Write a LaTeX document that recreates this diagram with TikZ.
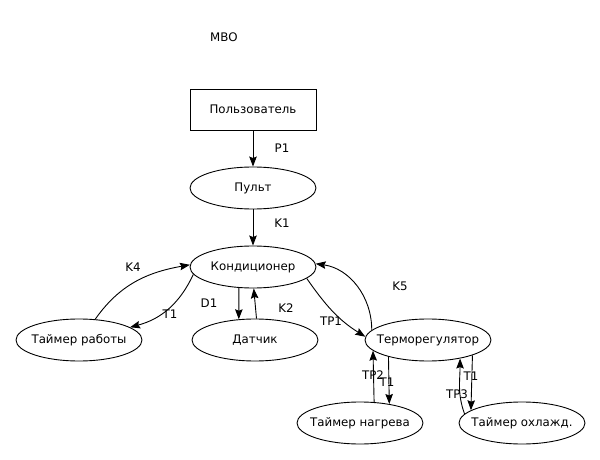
\documentclass[tikz,border=0pt]{standalone}
\usepackage{fontspec}
\setmainfont{DejaVu Sans}
\usetikzlibrary{shapes.geometric,arrows.meta}
\newcommand{\zw}[1]{\makebox[0pt]{#1}}
\begin{document}
\begin{tikzpicture}[x=1pt,y=-1pt,
  every node/.style={font=\fontsize{11.8}{13}\selectfont},
  ell/.style={draw,ellipse,minimum width=126pt,minimum height=42pt,inner sep=0pt,line width=0.9pt},
  boxn/.style={draw,rectangle,minimum width=126pt,minimum height=41pt,inner sep=0pt,line width=0.9pt},
  lbl/.style={inner sep=0pt},
  arr/.style={line width=0.9pt,-{Stealth[length=10pt,width=7.5pt,inset=1.5pt]}}]
\useasboundingbox (0,0) rectangle (600,460);
\node[lbl] (mvo) at (224,37) {МВО};
\node[boxn] (user) at (253,109.5) {Пользователь};
\node[ell] (pult) at (253,188) {\zw{Пульт}};
\node[ell] (kond) at (253,267) {\zw{Кондиционер}};
\node[ell] (tr) at (79,340) {\zw{Таймер работы}};
\node[ell] (dat) at (255,340) {\zw{Датчик}};
\node[ell] (termo) at (428,340) {\zw{Терморегулятор}};
\node[ell] (nagr) at (360,423) {\zw{Таймер нагрева}};
\node[ell] (ohl) at (522,423) {\zw{Таймер охлажд.}};

\draw[arr] (user.south) -- (pult.north);
\draw[arr] (pult.south) -- (kond.north);
\draw[arr] (kond.236) -- (dat.128);
\draw[arr] (dat.86) -- (kond.-88);
\draw[arr] (kond.187) to[out=-115,in=15] (tr.14);
\draw[arr] (tr.52) to[out=55,in=190] (kond.178);
\draw[arr] (kond.-12) to[out=-55,in=148] (termo.177);
\draw[arr] (termo.170) to[out=90,in=-8] (kond.3);
\draw[arr] (termo.203) -- (nagr.33);
\draw[arr] (nagr.56) -- (termo.191);
\draw[arr] (termo.-19) -- (ohl.166);
\draw[arr] (ohl.171) to[out=110,in=-90] (termo.-30);

\node[lbl] (lp1) at (282,148) {P1};
\node[lbl] (lk1) at (282,223) {K1};
\node[lbl] (lk4) at (133,267) {K4};
\node[lbl] (lt1a) at (170,314) {T1};
\node[lbl] (ld1) at (209,303) {D1};
\node[lbl] (lk2) at (286,308) {K2};
\node[lbl] (ltp1) at (331,321) {TP1};
\node[lbl] (lk5) at (400,286) {K5};
\node[lbl] (ltp2) at (373,375) {TP2};
\node[lbl] (lt1b) at (387,382) {T1};
\node[lbl] (lt1c) at (471,376) {T1};
\node[lbl] (ltp3) at (457,394) {TP3};
\end{tikzpicture}
\end{document}
